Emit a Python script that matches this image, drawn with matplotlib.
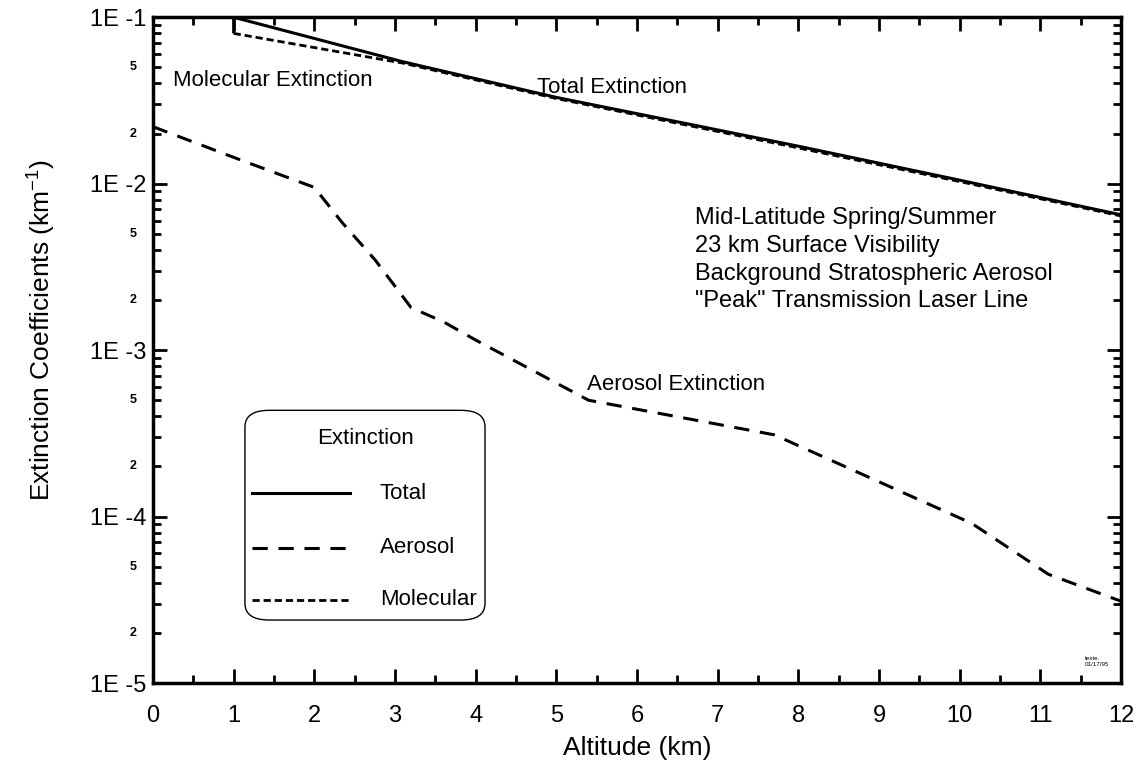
import numpy as np
import matplotlib
matplotlib.use("Agg")
import matplotlib.pyplot as plt
from matplotlib.patches import FancyBboxPatch
from matplotlib.ticker import FixedLocator, MultipleLocator, NullFormatter

plt.rcParams['font.family'] = ['Liberation Sans', 'DejaVu Sans']
plt.rcParams['mathtext.default'] = 'regular'

# extinction profiles vs altitude (km)
total_alt = [1.0, 1.0, 3.1, 5.0, 8.0, 10.0, 12.0]
total_ext = [0.080, 0.100, 0.054, 0.033, 0.0168, 0.0105, 0.0065]

aerosol_alt = [0.0, 1.0, 2.0, 2.35, 2.75, 3.2, 3.6, 4.0, 5.4, 7.7, 10.15, 11.1, 12.0]
aerosol_ext = [2.2e-2, 1.44e-2, 9.5e-3, 5.8e-3, 3.5e-3, 1.8e-3, 1.48e-3, 1.15e-3,
               5.0e-4, 3.1e-4, 9.1e-5, 4.5e-5, 3.1e-5]

molecular_alt = [1.0, 3.1, 5.0, 8.0, 10.0, 12.0]
molecular_ext = [0.080, 0.053, 0.0325, 0.0164, 0.0103, 0.0064]

major_y = [1e-5, 1e-4, 1e-3, 1e-2, 1e-1]
major_labels = ["1E -5", "1E -4", "1E -3", "1E -2", "1E -1"]

conditions = ["Mid-Latitude Spring/Summer", "23 km Surface Visibility",
              "Background Stratospheric Aerosol", "\"Peak\" Transmission Laser Line"]

fig = plt.figure(figsize=(11.46, 7.67), dpi=100)
ax = fig.add_axes([0.1335, 0.1095, 0.8447, 0.868])

ax.plot(total_alt, total_ext, color='black', lw=2.2, solid_capstyle='butt')
ax.plot(aerosol_alt, aerosol_ext, color='black', lw=2.2, dashes=(5, 3.5))
ax.plot(molecular_alt, molecular_ext, color='black', lw=2.0, dashes=(2.6, 1.4))

ax.set_yscale('log')
ax.set_xlim(0, 12)
ax.set_ylim(1e-5, 1e-1)

# axis ticks: inward on all four sides
ax.xaxis.set_major_locator(MultipleLocator(1))
ax.xaxis.set_minor_locator(MultipleLocator(0.5))
ax.yaxis.set_major_locator(FixedLocator(major_y))
minor_y = [m * 10.0 ** e for e in range(-5, -1) for m in range(2, 10)]
ax.yaxis.set_minor_locator(FixedLocator(minor_y))
ax.set_yticklabels(major_labels)
ax.yaxis.set_minor_formatter(NullFormatter())
ax.tick_params(which='both', direction='in', top=True, right=True, width=2)
ax.tick_params(which='major', length=10, labelsize=17)
ax.tick_params(axis='x', which='major', pad=16)
ax.tick_params(axis='y', which='major', pad=5)
ax.tick_params(which='minor', length=6)
for s in ax.spines.values():
    s.set_linewidth(2.5)

# small "5" and "2" labels between decades
for e in range(-5, -1):
    for m in (2, 5):
        ax.text(-0.25, m * 10.0 ** e, str(m), ha='center', va='center',
                fontsize=9, fontweight='bold')

ax.set_xlabel("Altitude (km)", fontsize=19, labelpad=6)
ax.set_ylabel("Extinction Coefficients (km$^{-1}$)", fontsize=19)
ax.yaxis.set_label_coords(-0.098, 0.53)

ax.text(0.25, 0.0415, "Molecular Extinction", fontsize=16, va='center')
ax.text(4.76, 0.038, "Total Extinction", fontsize=16, va='center')
ax.text(5.38, 6.2e-4, "Aerosol Extinction", fontsize=16, va='center')
ax.text(6.72, 7.2e-3, "\n".join(conditions), fontsize=17, va='top',
        linespacing=1.33)
ax.text(11.55, 1.35e-5, "texte.\n01/17/95", fontsize=4.5, va='center')

# legend box drawn in axes fraction
box = FancyBboxPatch((0.095, 0.0946), 0.248, 0.315, transform=ax.transAxes,
                     boxstyle="round,pad=0,rounding_size=0.025",
                     fc='white', ec='black', lw=1.0, zorder=3)
ax.add_patch(box)
ax.text(0.22, 0.368, "Extinction", transform=ax.transAxes, ha='center',
        va='center', fontsize=16, zorder=4)
legend_rows = [("Total", 0.285, None, 2.2), ("Aerosol", 0.203, (5, 3.5), 2.2),
               ("Molecular", 0.125, (2.6, 1.4), 2.0)]
for label, yy, dash, lw in legend_rows:
    ln, = ax.plot([0.102, 0.2035], [yy, yy], transform=ax.transAxes,
                  color='black', lw=lw, zorder=4)
    if dash:
        ln.set_dashes(dash)
    ax.text(0.2345, yy, label, transform=ax.transAxes, va='center',
            fontsize=16, zorder=4)

fig.savefig("out.png", dpi=100)
